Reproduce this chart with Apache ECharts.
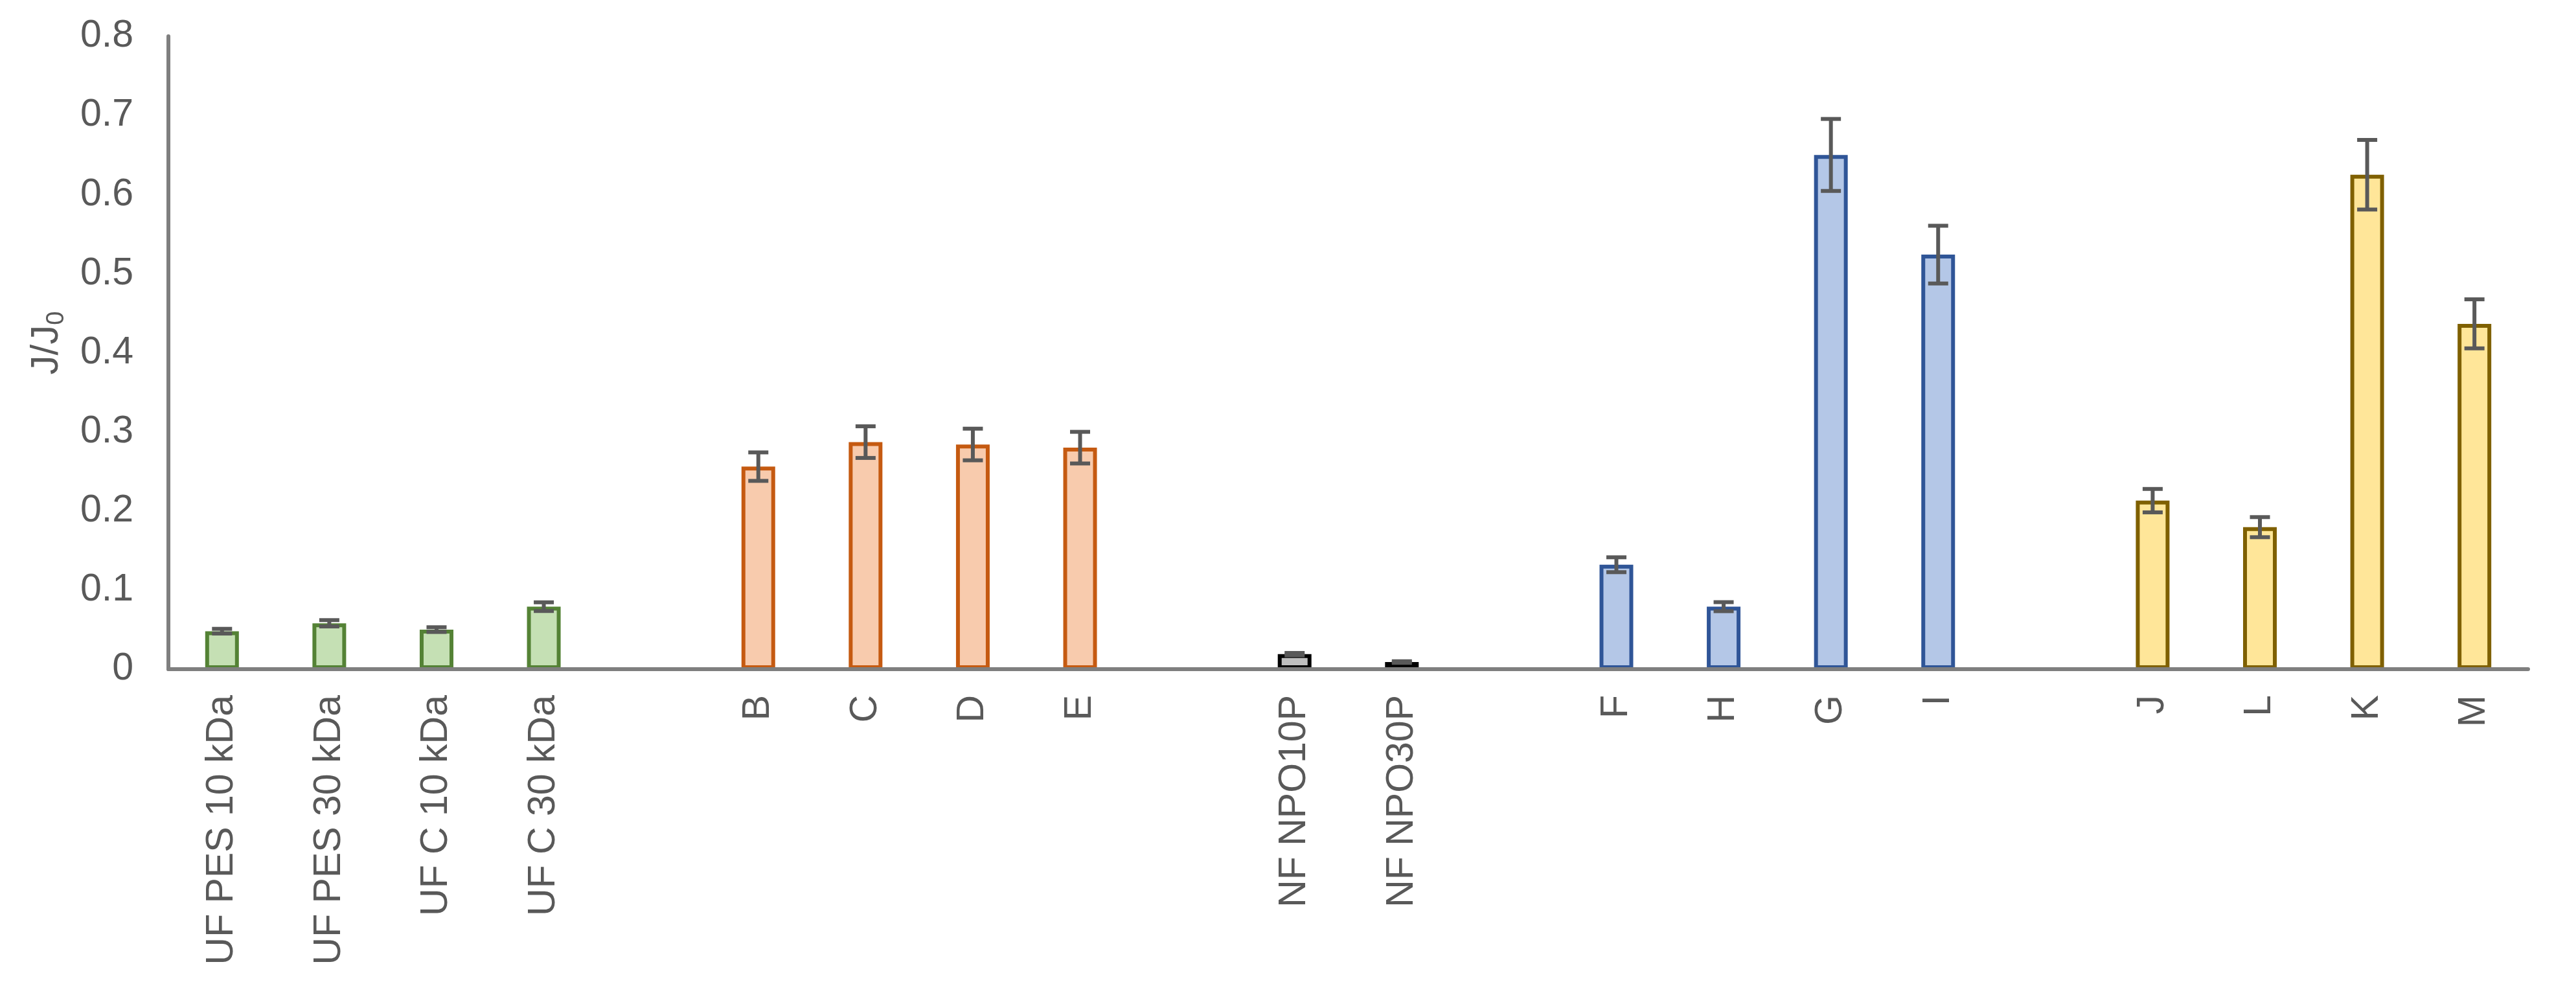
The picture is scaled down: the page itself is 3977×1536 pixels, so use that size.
<!DOCTYPE html>
<html>
<head>
<meta charset="utf-8">
<script src="https://cdn.jsdelivr.net/npm/echarts@6.0.0/dist/echarts.min.js"></script>
<style>
html,body{margin:0;padding:0;background:#fff;}
#chart{width:3977px;height:1536px;}
</style>
</head>
<body>
<div id="chart"></div>
<script>
// Categories along the x axis ('' = empty slot between groups)
const categories = ['UF PES 10 kDa','UF PES 30 kDa','UF C 10 kDa','UF C 30 kDa','',
  'B','C','D','E','',
  'NF NPO10P','NF NPO30P','',
  'F','H','G','I','',
  'J','L','K','M'];

// Bar groups (membership by category name)
const groupUF = ['UF PES 10 kDa','UF PES 30 kDa','UF C 10 kDa','UF C 30 kDa'];
const groupOrange = ['B','C','D','E'];
const groupNF = ['NF NPO10P','NF NPO30P'];
const groupBlue = ['F','H','G','I'];
const groupYellow = ['J','L','K','M'];

// J/J0 values (null = empty slot)
const values = [0.048, 0.058, 0.050, 0.079, null,
  0.256, 0.287, 0.284, 0.280, null,
  0.019, 0.009, null,
  0.132, 0.079, 0.650, 0.524, null,
  0.213, 0.1795, 0.625, 0.4365];

// Error bar half-lengths
const errors = [0.003, 0.004, 0.003, 0.0055, null,
  0.018, 0.020, 0.020, 0.020, null,
  0.0015, 0.001, null,
  0.0094, 0.0057, 0.0455, 0.0365, null,
  0.0148, 0.0127, 0.044, 0.031];

const yTicks = {min: 0, max: 0.8, interval: 0.1};

const FONT = "'Liberation Sans', Arial, sans-serif";
const TXT = '#595959';

function groupData(members) {
  return categories.map((c, i) => members.indexOf(c) >= 0 ? values[i] : '-');
}
function barSeries(name, members, fill, border) {
  return {
    name: name, type: 'bar', data: groupData(members),
    barWidth: 52, barGap: '-100%', z: 2,
    itemStyle: {color: fill, borderColor: border, borderWidth: 6},
    emphasis: {disabled: true}
  };
}

const errData = [];
categories.forEach((c, i) => { if (values[i] != null) errData.push([i, values[i], errors[i]]); });

const chart = echarts.init(document.getElementById('chart'), null, {renderer: 'canvas'});
chart.setOption({
  animation: false,
  backgroundColor: '#ffffff',
  grid: {left: 260, right: 74, top: 56, bottom: 503, containLabel: false},
  xAxis: {
    type: 'category', data: categories, z: 10,
    axisLine: {show: true, lineStyle: {color: '#7f7f7f', width: 6}},
    axisTick: {show: false},
    axisLabel: {interval: 0, rotate: 90, margin: 40, fontSize: 59, color: TXT, fontFamily: FONT},
    splitLine: {show: false}
  },
  yAxis: {
    type: 'value', min: yTicks.min, max: yTicks.max, interval: yTicks.interval,
    axisLine: {show: true, lineStyle: {color: '#7f7f7f', width: 6}},
    axisTick: {show: false},
    splitLine: {show: false},
    axisLabel: {margin: 54, fontSize: 59, color: TXT, fontFamily: FONT},
    name: '{a|J/J}{b|0}',
    nameLocation: 'middle',
    nameGap: 153,
    nameTextStyle: {
      padding: [0, 0, 0, 30],
      rich: {
        a: {fontSize: 60, lineHeight: 70, color: TXT, fontFamily: FONT, verticalAlign: 'middle'},
        b: {fontSize: 38, lineHeight: 70, color: TXT, fontFamily: FONT, verticalAlign: 'bottom'}
      }
    }
  },
  series: [
    barSeries('UF', groupUF, '#c5e0b4', '#548235'),
    barSeries('Orange', groupOrange, '#f8cbad', '#c55a11'),
    barSeries('NF', groupNF, '#bfbfbf', '#000000'),
    barSeries('Blue', groupBlue, '#b4c7e7', '#2f5597'),
    barSeries('Yellow', groupYellow, '#ffe699', '#7f6000'),
    {
      name: 'err', type: 'custom', z: 5, data: errData,
      renderItem: function (params, api) {
        const x = api.value(0), y = api.value(1), e = api.value(2);
        const top = api.coord([x, y + e]);
        const bot = api.coord([x, y - e]);
        const hw = 15.5;
        const st = {stroke: '#595959', lineWidth: 6};
        return {
          type: 'group',
          children: [
            {type: 'line', shape: {x1: top[0], y1: top[1], x2: bot[0], y2: bot[1]}, style: st},
            {type: 'line', shape: {x1: top[0] - hw, y1: top[1], x2: top[0] + hw, y2: top[1]}, style: st},
            {type: 'line', shape: {x1: bot[0] - hw, y1: bot[1], x2: bot[0] + hw, y2: bot[1]}, style: st}
          ]
        };
      }
    }
  ]
});
</script>
</body>
</html>
